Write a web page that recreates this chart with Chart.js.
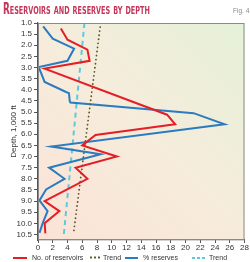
<!DOCTYPE html>
<html>
<head>
<meta charset="utf-8">
<script src="https://cdn.jsdelivr.net/npm/chart.js@4.4.1/dist/chart.umd.min.js"></script>
<style>
  html, body { margin: 0; padding: 0; background: #fff; }
  #wrap { position: relative; width: 250px; height: 262px; overflow: hidden; font-family: "Liberation Sans", Arial, sans-serif; }
  #chart { position: absolute; left: 0; top: 0; }
  .title { position: absolute; left: 3px; top: 0px; font-family: "DejaVu Sans Condensed", "Liberation Sans Narrow", sans-serif; font-weight: bold; font-size: 15px; font-variant: small-caps; color: #c4365a; white-space: nowrap; transform-origin: left top; }
  .fig { position: absolute; left: 233px; top: 7px; font-size: 6.5px; color: #888; white-space: nowrap; }
  .lg { position: absolute; top: 253px; font-size: 7px; line-height: 9px; color: #333; white-space: nowrap; }
  .sw { position: absolute; top: 257px; }
</style>
</head>
<body>
<div id="wrap">
  <canvas id="chart" width="250" height="262"></canvas>
  <div class="title" id="title">Reservoirs and reserves by depth</div>
  <div class="fig">Fig. 4</div>

  <div class="sw" style="left:13px;width:14px;height:2px;background:#e41e26"></div>
  <div class="lg" style="left:32px">No. of reservoirs</div>
  <div class="sw" style="left:89px;top:256px;width:12px;height:3px;background:radial-gradient(circle, #5a5a2a 0.9px, transparent 1.3px) 0 0 / 4px 3px repeat-x"></div>
  <div class="lg" style="left:103px">Trend</div>
  <div class="sw" style="left:125px;width:13px;height:2px;background:#2a7bbf"></div>
  <div class="lg" style="left:143px">% reserves</div>
  <div class="sw" style="left:192px;width:13px;height:2px;background:repeating-linear-gradient(90deg, #5fc8dc 0 3px, transparent 3px 5px)"></div>
  <div class="lg" style="left:209px">Trend</div>
</div>
<script>
// depth is in 1,000 ft
const reservoirDepth = [1.25, 1.75, 2.2, 2.7, 3.05, 5.12, 5.55, 6.03, 6.5, 7.0, 7.5, 8.0, 9.0, 9.45, 10.0, 10.45];
const reservoirCount = [3.1, 4.0, 6.7, 7.0, 0.9, 17.5, 18.6, 7.8, 6.0, 10.7, 5.1, 6.7, 0.9, 2.9, 0.9, 1.0];

const reservesDepth = [1.15, 1.7, 2.15, 2.7, 2.98, 3.65, 4.1, 4.15, 4.5, 4.57, 5.05, 5.55, 6.55, 6.9, 7.5, 8.0, 8.48, 8.97, 9.45, 9.98, 10.43];
const reservesPct = [0.7, 2.0, 4.9, 4.0, 0.1, 0.9, 3.8, 4.2, 4.3, 4.4, 21.1, 25.3, 1.8, 8.5, 1.5, 3.6, 1.1, 0.2, 1.3, 0.65, 0.2];

const trendDepth = [1.0, 10.5];
const reservoirTrend = [8.5, 4.8];
const reservesTrend = [6.3, 3.5];

const depthTicks = [1.0, 1.5, 2.0, 2.5, 3.0, 3.5, 4.0, 4.5, 5.0, 5.5, 6.0, 6.5, 7.0, 7.5, 8.0, 8.5, 9.0, 9.5, 10.0, 10.5];
const xTicks = [0, 2, 4, 6, 8, 10, 12, 14, 16, 18, 20, 22, 24, 26, 28];

const pts = (vals, depths) => vals.map((v, i) => ({ x: v, y: depths[i] }));
const FONT = '"Liberation Sans", Arial, sans-serif';

// squeeze the title to the width it has in the figure
const t = document.getElementById('title');
t.style.transform = 'scaleX(' + (147 / t.offsetWidth) + ')';

const plotBg = {
  id: 'plotBg',
  beforeDraw(chart) {
    const { ctx, chartArea: a } = chart;
    const g = ctx.createLinearGradient(a.right, a.top, a.left, a.bottom);
    g.addColorStop(0, '#e5f1d8');
    g.addColorStop(0.5, '#f6ecdc');
    g.addColorStop(1, '#fbe3d6');
    ctx.save();
    ctx.fillStyle = g;
    ctx.fillRect(a.left, a.top, a.right - a.left, a.bottom - a.top);
    ctx.restore();
  },
  afterDraw(chart) {
    const { ctx, chartArea: a } = chart;
    ctx.save();
    ctx.strokeStyle = '#8a8a8a';
    ctx.lineWidth = 1;
    ctx.strokeRect(a.left + 0.5, a.top + 0.5, a.right - a.left - 1, a.bottom - a.top - 1);
    ctx.restore();
  }
};

new Chart(document.getElementById('chart'), {
  type: 'scatter',
  data: {
    datasets: [
      { data: pts(reservoirCount, reservoirDepth), showLine: true, borderColor: '#e41e26', borderWidth: 2, pointRadius: 0, tension: 0 },
      { data: pts(reservoirTrend, trendDepth), showLine: true, borderColor: '#5a5a2a', borderWidth: 1.8, borderDash: [0.1, 4], borderCapStyle: 'round', pointRadius: 0 },
      { data: pts(reservesPct, reservesDepth), showLine: true, borderColor: '#2a7bbf', borderWidth: 2, pointRadius: 0, tension: 0 },
      { data: pts(reservesTrend, trendDepth), showLine: true, borderColor: '#5fc8dc', borderWidth: 2, borderDash: [5, 4], pointRadius: 0 }
    ]
  },
  options: {
    responsive: false,
    animation: false,
    devicePixelRatio: 1,
    layout: { padding: { top: 23, right: 5.5, left: 0, bottom: 0 } },
    plugins: { legend: { display: false }, tooltip: { enabled: false } },
    scales: {
      x: {
        type: 'linear', min: 0, max: 28,
        afterBuildTicks: s => { s.ticks = xTicks.map(v => ({ value: v })); },
        afterFit: s => { s.height = 22; },
        grid: { drawOnChartArea: false, drawTicks: true, tickLength: 3, color: '#555' },
        border: { color: '#555', width: 1.2 },
        ticks: { font: { size: 8, family: FONT }, color: '#333', padding: 0, maxRotation: 0, autoSkip: false }
      },
      y: {
        type: 'linear', reverse: true, min: 1.0, max: 10.75,
        afterBuildTicks: s => { s.ticks = depthTicks.map(v => ({ value: v })); },
        afterFit: s => { s.width = 38; },
        grid: { drawOnChartArea: false, drawTicks: true, tickLength: 4, color: '#555' },
        border: { color: '#555', width: 1.2 },
        title: { display: true, text: 'Depth, 1,000 ft', font: { size: 8, family: FONT }, color: '#333', padding: { top: 9, bottom: 0 } },
        ticks: { font: { size: 8, family: FONT }, color: '#333', padding: 2, autoSkip: false, callback: v => v.toFixed(1) }
      }
    }
  },
  plugins: [plotBg]
});
</script>
</body>
</html>
